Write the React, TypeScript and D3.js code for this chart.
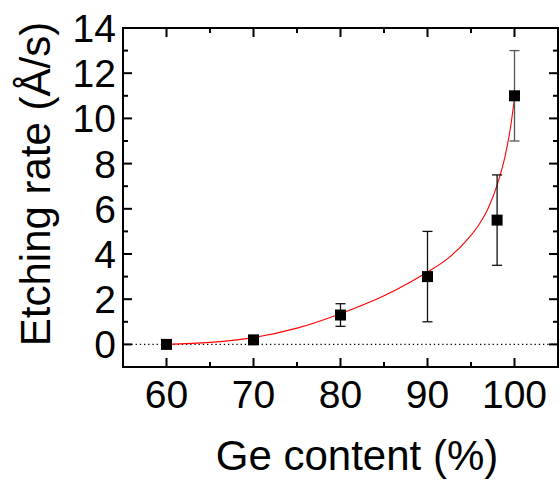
import React, { useEffect, useRef } from "react";
import * as d3 from "d3";

// measured points
const geContent = [60, 70, 80, 90, 98, 100];
const etchRate = [0, 0.2, 1.3, 3, 5.5, 11];
const etchErr = [0, 0, 0.5, 2, 2, 2];

// fitted curve
const fitX = [60, 65, 70, 75, 80, 85, 88, 90, 92.5, 94.5, 96, 97, 98, 98.9, 99.5, 100];
const fitY = [0, 0.09, 0.3, 0.72, 1.36, 2.15, 2.75, 3.2, 3.85, 4.6, 5.35, 6.05, 7.05, 8.3, 9.5, 10.9];

const xTicks = [60, 70, 80, 90, 100];
const yTicks = [0, 2, 4, 6, 8, 10, 12, 14];

const App = () => {
  const svgRef = useRef(null);

  useEffect(() => {
    const width = 560;
    const height = 483;
    const left = 123;
    const right = 558;
    const top = 28;
    const bottom = 367;
    const font = "Liberation Sans, Arial, sans-serif";

    const x = d3.scaleLinear().domain([55, 105]).range([left, right]);
    const y = d3.scaleLinear().domain([-1, 14]).range([bottom, top]);

    const svg = d3.select(svgRef.current)
      .attr("width", width)
      .attr("height", height)
      .attr("viewBox", `0 0 ${width} ${height}`);

    svg.selectAll("*").remove();

    svg.append("rect")
      .attr("width", width)
      .attr("height", height)
      .attr("fill", "white");

    // zero line
    svg.append("line")
      .attr("x1", left).attr("x2", right)
      .attr("y1", y(0)).attr("y2", y(0))
      .attr("stroke", "black")
      .attr("stroke-width", 1.3)
      .attr("stroke-dasharray", "1.3 2.9");

    // fit curve
    const line = d3.line()
      .x((d) => x(d[0]))
      .y((d) => y(d[1]))
      .curve(d3.curveMonotoneX);
    svg.append("path")
      .datum(fitX.map((v, i) => [v, fitY[i]]))
      .attr("d", line)
      .attr("fill", "none")
      .attr("stroke", "#ff0000")
      .attr("stroke-width", 1.1);

    // error bars
    const pts = geContent.map((v, i) => ({ x: v, y: etchRate[i], e: etchErr[i] }));
    const eb = svg.append("g")
      .selectAll("g")
      .data(pts.filter((d) => d.e > 0))
      .join("g")
      .attr("stroke", (d) => (d.x === 100 ? "#555" : "#111"))
      .attr("stroke-width", 1.3);
    eb.append("line")
      .attr("x1", (d) => x(d.x)).attr("x2", (d) => x(d.x))
      .attr("y1", (d) => y(d.y - d.e)).attr("y2", (d) => y(d.y + d.e));
    [1, -1].forEach((s) => {
      eb.append("line")
        .attr("x1", (d) => x(d.x) - 5).attr("x2", (d) => x(d.x) + 5)
        .attr("y1", (d) => y(d.y + s * d.e)).attr("y2", (d) => y(d.y + s * d.e));
    });

    // markers
    const m = 11;
    svg.append("g")
      .selectAll("rect")
      .data(pts)
      .join("rect")
      .attr("x", (d) => x(d.x) - m / 2)
      .attr("y", (d) => y(d.y) - m / 2)
      .attr("width", m)
      .attr("height", m)
      .attr("fill", "black");

    // ticks, inward on all four sides
    const ticks = svg.append("g").attr("stroke", "black").attr("stroke-width", 2);
    d3.range(55, 106, 5).forEach((v) => {
      const len = v % 10 === 0 ? 9 : 5;
      ticks.append("line").attr("x1", x(v)).attr("x2", x(v)).attr("y1", bottom).attr("y2", bottom - len);
      ticks.append("line").attr("x1", x(v)).attr("x2", x(v)).attr("y1", top).attr("y2", top + len);
    });
    d3.range(-1, 15, 1).forEach((v) => {
      const len = v % 2 === 0 ? 9 : 5;
      ticks.append("line").attr("x1", left).attr("x2", left + len).attr("y1", y(v)).attr("y2", y(v));
      ticks.append("line").attr("x1", right).attr("x2", right - len).attr("y1", y(v)).attr("y2", y(v));
    });

    // frame
    svg.append("rect")
      .attr("x", left).attr("y", top)
      .attr("width", right - left).attr("height", bottom - top)
      .attr("fill", "none")
      .attr("stroke", "black")
      .attr("stroke-width", 2);

    // tick labels
    svg.append("g")
      .selectAll("text")
      .data(xTicks)
      .join("text")
      .attr("x", (d) => x(d))
      .attr("y", 408)
      .attr("text-anchor", "middle")
      .attr("font-family", font)
      .attr("font-size", 39)
      .text((d) => d);

    svg.append("g")
      .selectAll("text")
      .data(yTicks)
      .join("text")
      .attr("x", 116)
      .attr("y", (d) => y(d) + 14)
      .attr("text-anchor", "end")
      .attr("font-family", font)
      .attr("font-size", 39)
      .text((d) => d);

    // axis titles
    svg.append("text")
      .attr("x", 357)
      .attr("y", 470)
      .attr("text-anchor", "middle")
      .attr("font-family", font)
      .attr("font-size", 42)
      .text("Ge content (%)");

    svg.append("text")
      .attr("transform", `translate(50,184) rotate(-90)`)
      .attr("text-anchor", "middle")
      .attr("font-family", font)
      .attr("font-size", 42)
      .text("Etching rate (Å/s)");
  }, []);

  return <svg ref={svgRef} style={{ position: "absolute", left: 0, top: 0 }}></svg>;
};

export default App;
